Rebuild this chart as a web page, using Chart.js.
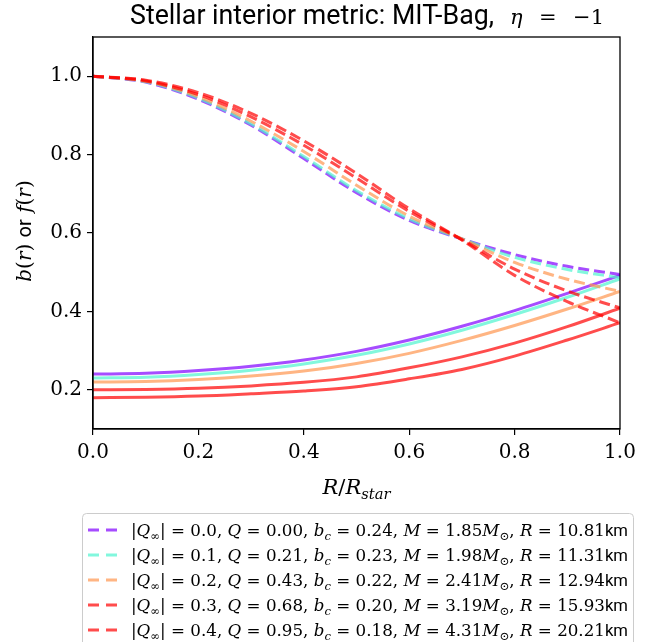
<!DOCTYPE html>
<html>
<head>
<meta charset="utf-8">
<script src="https://cdn.jsdelivr.net/npm/chart.js@4.4.1/dist/chart.umd.min.js"></script>
<style>
  html, body { margin: 0; padding: 0; background: #fff; }
  #wrap { width: 658px; height: 642px; }
</style>
</head>
<body>
<div id="wrap"><canvas id="chart" width="658" height="642"></canvas></div>
<script>
// radial coordinate R/R_star
const rValues = [0, 0.1, 0.2, 0.3, 0.4, 0.5, 0.6, 0.7, 0.8, 0.9, 1.0];

// f(r), dashed curves
const fQ00 = [1.000, 0.985, 0.941, 0.875, 0.790, 0.703, 0.632, 0.585, 0.545, 0.515, 0.494];
const fQ01 = [1.000, 0.986, 0.944, 0.878, 0.795, 0.708, 0.636, 0.585, 0.538, 0.507, 0.486];
const fQ02 = [1.000, 0.987, 0.948, 0.885, 0.808, 0.722, 0.643, 0.585, 0.525, 0.482, 0.451];
const fQ03 = [1.000, 0.988, 0.953, 0.896, 0.824, 0.740, 0.655, 0.583, 0.508, 0.452, 0.409];
const fQ04 = [1.000, 0.990, 0.958, 0.905, 0.835, 0.752, 0.662, 0.582, 0.492, 0.425, 0.371];

// b(r), solid curves
const bQ00 = [0.240, 0.242, 0.249, 0.260, 0.276, 0.298, 0.327, 0.362, 0.402, 0.446, 0.492];
const bQ01 = [0.230, 0.232, 0.239, 0.250, 0.266, 0.288, 0.317, 0.352, 0.392, 0.436, 0.483];
const bQ02 = [0.220, 0.221, 0.226, 0.235, 0.248, 0.267, 0.293, 0.326, 0.364, 0.406, 0.451];
const bQ03 = [0.200, 0.201, 0.204, 0.210, 0.219, 0.233, 0.256, 0.284, 0.319, 0.361, 0.408];
const bQ04 = [0.180, 0.181, 0.184, 0.190, 0.197, 0.208, 0.228, 0.252, 0.286, 0.327, 0.371];

// legend parameters
const qInfValues = ['0.0', '0.1', '0.2', '0.3', '0.4'];
const qValues = ['0.00', '0.21', '0.43', '0.68', '0.95'];
const bcValues = ['0.24', '0.23', '0.22', '0.20', '0.18'];
const massValues = ['1.85', '1.98', '2.41', '3.19', '4.31'];
const radiusValues = ['10.81', '11.31', '12.94', '15.93', '20.21'];

const xTickValues = [0, 0.2, 0.4, 0.6, 0.8, 1.0];
const yTickValues = [0.2, 0.4, 0.6, 0.8, 1.0];

const fSeries = [fQ00, fQ01, fQ02, fQ03, fQ04];
const bSeries = [bQ00, bQ01, bQ02, bQ03, bQ04];
// rainbow colormap samples, alpha 0.7
const seriesColors = [
  'rgba(128,0,255,0.7)',
  'rgba(77,243,206,0.7)',
  'rgba(255,150,79,0.7)',
  'rgba(255,0,0,0.7)',
  'rgba(255,0,0,0.7)'
];

const SERIF = "'DejaVu Serif', 'Liberation Serif', serif";
const SANS = "Roboto, 'DejaVu Sans', sans-serif";

function toPoints(ys) {
  return rValues.map((r, i) => ({ x: r, y: ys[i] }));
}

// segment: [text, kind, sub]  kind: i = italic serif, r = roman serif, s = sans
function segFont(kind, size) {
  if (kind === 'i') return `italic ${size}px ${SERIF}`;
  if (kind === 's') return `${size}px ${SANS}`;
  return `${size}px ${SERIF}`;
}

// split segments into pieces, spaces kept separate so they can be stretched
function pieces(ctx, segs, size) {
  const out = [];
  segs.forEach(([t, kind, sub]) => {
    const s = sub ? size * 0.7 : size;
    t.split(/( )/).filter(p => p.length).forEach(p => {
      ctx.font = segFont(kind, s);
      out.push({ t: p, font: ctx.font, sub: !!sub, space: p === ' ', w: ctx.measureText(p).width });
    });
  });
  return out;
}

// draws rich text; mode 'justify' stretches spaces, 'scale' resizes font to reach target width
function drawRich(ctx, segs, x, y, size, target, mode, align) {
  let ps = pieces(ctx, segs, size);
  let natural = ps.reduce((s, p) => s + p.w, 0);
  let extra = 0;
  if (target) {
    if (mode === 'scale' || natural > target) {
      size = size * target / natural;
      ps = pieces(ctx, segs, size);
      natural = ps.reduce((s, p) => s + p.w, 0);
    }
    const nSpaces = ps.filter(p => p.space).length;
    extra = nSpaces && mode === 'justify' ? (target - natural) / nSpaces : 0;
  }
  const total = natural + extra * ps.filter(p => p.space).length;
  let cx = align === 'center' ? x - total / 2 : x;
  ctx.textBaseline = 'alphabetic';
  ctx.textAlign = 'left';
  ps.forEach(p => {
    if (p.space) { cx += p.w + extra; return; }
    ctx.font = p.font;
    ctx.fillText(p.t, cx, p.sub ? y + size * 0.22 : y);
    cx += p.w;
  });
}

function legendSegs(i) {
  return [
    ['|', 'r'], ['Q', 'i'], ['\u221E', 'r', true], ['| = ' + qInfValues[i] + ', ', 'r'],
    ['Q', 'i'], [' = ' + qValues[i] + ', ', 'r'],
    ['b', 'i'], ['c', 'i', true], [' = ' + bcValues[i] + ', ', 'r'],
    ['M', 'i'], [' = ' + massValues[i], 'r'], ['M', 'i'], ['\u2299', 'r', true], [', ', 'r'],
    ['R', 'i'], [' = ' + radiusValues[i], 'r'], ['km', 's']
  ];
}

const decorPlugin = {
  id: 'decor',
  afterDraw(chart) {
    const ctx = chart.ctx;
    const a = chart.chartArea;
    ctx.save();
    ctx.fillStyle = '#000';

    // frame
    ctx.strokeStyle = '#000';
    ctx.lineWidth = 1.3;
    ctx.strokeRect(a.left, a.top, a.right - a.left, a.bottom - a.top);

    // title: sans text, then math part
    drawRich(ctx, [['Stellar interior metric: MIT-Bag,', 's']], 130, 24, 22, 364, 'scale');
    drawRich(ctx, [['\u03B7', 'i'], [' = \u22121', 'r']], 510, 24, 21, 94, 'justify');

    // x label
    const xSegs = [['R', 'i'], ['/', 'r'], ['R', 'i'], ['star', 'i', true]];
    drawRich(ctx, xSegs, (a.left + a.right) / 2, 494, 21, 0, null, 'center');

    // y label
    const ySegs = [['b', 'i'], ['(', 'r'], ['r', 'i'], [') ', 'r'], ['or', 's'], [' ', 'r'], ['f', 'i'], ['(', 'r'], ['r', 'i'], [')', 'r']];
    ctx.save();
    ctx.translate(31, 231);
    ctx.rotate(-Math.PI / 2);
    drawRich(ctx, ySegs, 0, 0, 20, 0, null, 'center');
    ctx.restore();

    // legend box
    const lx = 82, ly = 513, lw = 551, lh = 140;
    ctx.strokeStyle = '#cccccc';
    ctx.lineWidth = 1;
    ctx.beginPath();
    ctx.roundRect(lx + 0.5, ly + 0.5, lw, lh, 4);
    ctx.fillStyle = 'rgba(255,255,255,0.8)';
    ctx.fill();
    ctx.stroke();

    for (let i = 0; i < 5; i++) {
      const cy = 530 + i * 25;
      ctx.strokeStyle = seriesColors[i];
      ctx.lineWidth = 3.2;
      ctx.setLineDash([11, 7]);
      ctx.beginPath();
      ctx.moveTo(88, cy);
      ctx.lineTo(118, cy);
      ctx.stroke();
      ctx.setLineDash([]);
      ctx.fillStyle = '#000';
      drawRich(ctx, legendSegs(i), 131, cy + 6, 17.5, 497, 'justify');
    }
    ctx.restore();
  }
};

const datasets = [];
fSeries.forEach((ys, i) => {
  datasets.push({
    data: toPoints(ys), borderColor: seriesColors[i], borderWidth: 3, borderDash: [11, 5],
    pointRadius: 0, fill: false, cubicInterpolationMode: 'monotone', order: 20 - 2 * i
  });
  datasets.push({
    data: toPoints(bSeries[i]), borderColor: seriesColors[i], borderWidth: 3,
    pointRadius: 0, fill: false, cubicInterpolationMode: 'monotone', order: 19 - 2 * i
  });
});

const axisCommon = {
  type: 'linear',
  grid: { drawOnChartArea: false, drawTicks: true, tickLength: 6, color: '#000', lineWidth: 1.2 },
  border: { display: true, color: '#000', width: 1.3 }
};

new Chart(document.getElementById('chart'), {
  type: 'line',
  data: { datasets },
  options: {
    responsive: false,
    animation: false,
    layout: { padding: { top: 37, right: 38, left: 0, bottom: 0 } },
    plugins: { legend: { display: false }, tooltip: { enabled: false }, title: { display: false } },
    scales: {
      x: {
        ...axisCommon,
        min: 0, max: 1,
        afterBuildTicks: s => { s.ticks = xTickValues.map(v => ({ value: v })); },
        afterFit: s => { s.height = 213; },
        ticks: { color: '#000', font: { family: SERIF, size: 20 }, padding: 6, maxRotation: 0, callback: v => Number(v).toFixed(1) }
      },
      y: {
        ...axisCommon,
        min: 0.1, max: 1.1,
        afterBuildTicks: s => { s.ticks = yTickValues.map(v => ({ value: v })); },
        afterFit: s => { s.width = 93; },
        ticks: { color: '#000', font: { family: SERIF, size: 20 }, padding: 5, callback: v => Number(v).toFixed(1) }
      }
    }
  },
  plugins: [decorPlugin]
});
</script>
</body>
</html>
